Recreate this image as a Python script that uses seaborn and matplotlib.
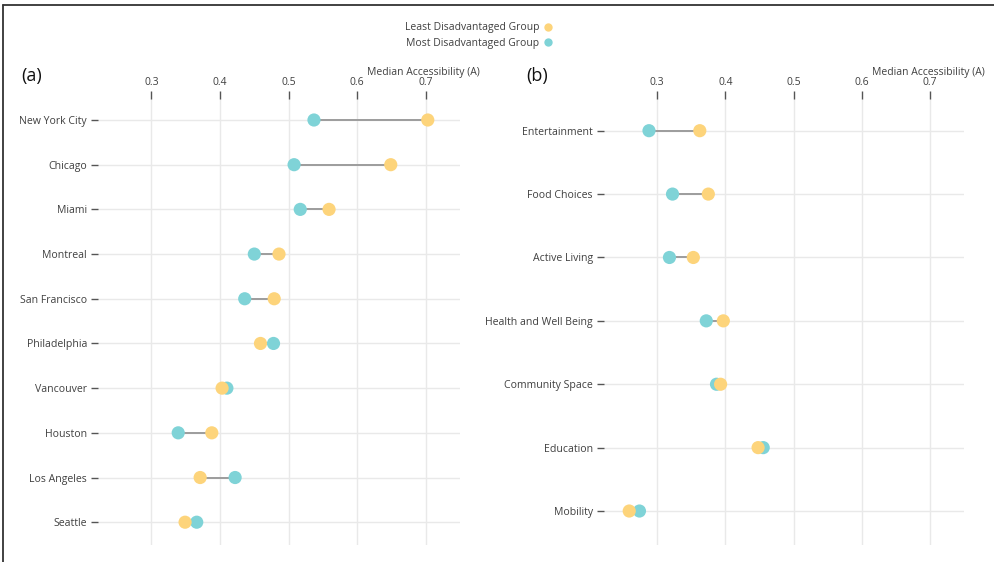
import numpy as np
import pandas as pd
import seaborn as sns
import matplotlib.pyplot as plt
from matplotlib.lines import Line2D

# Median accessibility by city
cities = ["New York City", "Chicago", "Miami", "Montreal", "San Francisco",
          "Philadelphia", "Vancouver", "Houston", "Los Angeles", "Seattle"]
city_least = [0.703, 0.649, 0.559, 0.486, 0.479, 0.459, 0.403, 0.388, 0.371, 0.349]
city_most = [0.537, 0.508, 0.517, 0.450, 0.436, 0.478, 0.410, 0.339, 0.422, 0.366]

# Median accessibility by amenity domain
domains = ["Entertainment", "Food Choices", "Active Living", "Health and Well Being",
           "Community Space", "Education", "Mobility"]
domain_least = [0.3625, 0.375, 0.353, 0.397, 0.393, 0.448, 0.259]
domain_most = [0.288, 0.3225, 0.318, 0.372, 0.387, 0.4555, 0.274]

x_ticks = [0.3, 0.4, 0.5, 0.6, 0.7]
x_range = (0.222, 0.75)

LEAST = "Least Disadvantaged Group"
MOST = "Most Disadvantaged Group"
YELLOW = "#fdd47b"
TEAL = "#7fd3d7"
TEXT = "#404040"

sns.set_theme(style="white")
plt.rcParams["font.family"] = ["Open Sans", "DejaVu Sans"]

fig = plt.figure(figsize=(9.95, 5.62), dpi=100)


def dumbbell(ax, cats, least, most, pad_top, pad_bottom):
    n = len(cats)
    least = np.asarray(least)
    most = np.asarray(most)
    ax.hlines(cats, np.minimum(least, most), np.maximum(least, most),
              color="#9c9c9c", lw=1.4, zorder=2)
    df = pd.DataFrame({
        "category": list(cats) * 2,
        "value": list(most) + list(least),
        "group": [MOST] * n + [LEAST] * n,
    })
    sns.scatterplot(data=df, x="value", y="category", hue="group",
                    palette={LEAST: YELLOW, MOST: TEAL}, s=90,
                    edgecolor="none", linewidth=0, legend=False,
                    ax=ax, zorder=3)
    ax.set_xlim(*x_range)
    ax.set_ylim(n - 1 + pad_bottom, -pad_top)
    ax.xaxis.tick_top()
    ax.set_xticks(x_ticks)
    ax.set_xticklabels([f"{t:.1f}" for t in x_ticks])
    ax.set_xlabel("")
    ax.set_ylabel("")
    ax.tick_params(axis="x", length=6, width=1, color="#555555", pad=2,
                   labelsize=7.5, labelcolor=TEXT, bottom=False, top=True)
    ax.tick_params(axis="y", length=5, width=1, color="#555555", pad=3,
                   labelsize=7.6, labelcolor=TEXT, left=True)
    ax.grid(True, color="#e9e9e9", lw=1)
    ax.set_axisbelow(True)
    for s in ax.spines.values():
        s.set_visible(False)


top = 1 - 99 / 562
bottom = 1 - 545 / 562
ax_a = fig.add_axes([98 / 995, bottom, 362 / 995, top - bottom])
ax_b = fig.add_axes([604 / 995, bottom, 360 / 995, top - bottom])

dumbbell(ax_a, cities, city_least, city_most, 0.47, 0.51)
dumbbell(ax_b, domains, domain_least, domain_most, 0.5, 0.536)

# axis titles and panel letters
fig.text(480 / 995, 1 - 72 / 562, "Median Accessibility (A)", ha="right",
         va="center", fontsize=7.5, color=TEXT)
fig.text(985 / 995, 1 - 72 / 562, "Median Accessibility (A)", ha="right",
         va="center", fontsize=7.5, color=TEXT)
fig.text(21 / 995, 1 - 76 / 562, "(a)", ha="left", va="center", fontsize=13,
         color="#111111")
fig.text(526 / 995, 1 - 76 / 562, "(b)", ha="left", va="center", fontsize=13,
         color="#111111")

# legend
handles = [
    Line2D([], [], ls="", marker="o", markersize=6, markerfacecolor=YELLOW,
           markeredgecolor="none"),
    Line2D([], [], ls="", marker="o", markersize=6, markerfacecolor=TEAL,
           markeredgecolor="none"),
]
leg = fig.legend(handles, [LEAST, MOST], loc="upper center",
                 bbox_to_anchor=(479 / 995, 1 - 17 / 562), frameon=False,
                 markerfirst=False, fontsize=7.5, handletextpad=0.3,
                 labelspacing=0.45, handlelength=1.0, borderpad=0)
for t in leg.get_texts():
    t.set_color(TEXT)

# frame lines along the top and left edges
fig.add_artist(Line2D([3.5 / 995, 3.5 / 995], [0, 1 - 5 / 562], color="#333333",
                      lw=1.3))
fig.add_artist(Line2D([3.5 / 995, 1], [1 - 5 / 562, 1 - 5 / 562], color="#333333",
                      lw=1.3))

fig.savefig("out.png", dpi=100, facecolor="white")
